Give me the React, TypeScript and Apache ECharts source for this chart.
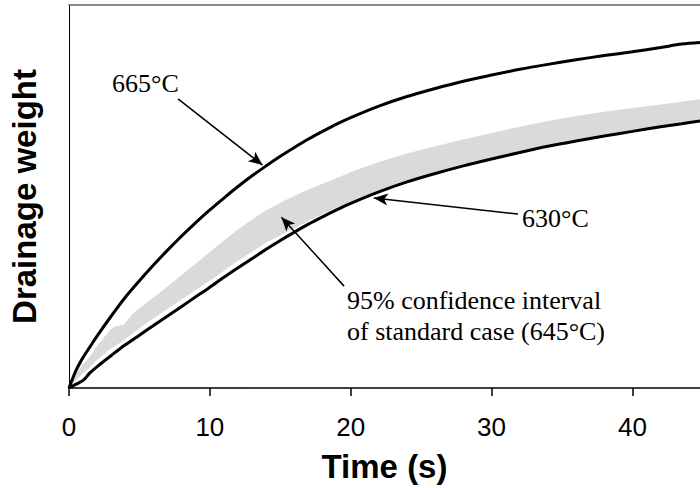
import React, { useEffect, useRef } from "react";
import * as echarts from "echarts";

// Time (s) sample points for the two temperature curves
const LINE_X = [0, 0.5, 1, 1.5, 2, 3, 4, 5, 6, 7, 8, 9, 10, 11, 12, 13, 14, 15, 16, 17, 18, 19, 20, 22, 24, 26, 28, 30, 32, 34, 36, 38, 40, 42, 43.5, 44.8];
// 665°C drainage weight (arbitrary units, 0-100)
const T665 = [0, 4.6, 8.0, 10.8, 13.6, 18.8, 23.7, 28.0, 32.1, 36.0, 39.7, 43.2, 46.5, 49.6, 52.6, 55.4, 58.0, 60.5, 62.8, 65.0, 67.0, 68.9, 70.6, 73.6, 76.1, 78.2, 80.1, 81.7, 83.2, 84.5, 85.7, 86.8, 87.8, 88.9, 89.8, 90.2];
// 630°C drainage weight
const T630 = [0, 1.0, 2.0, 4.0, 5.6, 8.5, 11.3, 13.8, 16.3, 18.8, 21.3, 23.8, 26.3, 28.9, 31.4, 33.8, 36.2, 38.5, 40.7, 42.8, 44.7, 46.5, 48.2, 51.2, 53.8, 56.0, 58.0, 59.8, 61.5, 63.1, 64.5, 65.8, 67.0, 68.2, 69.0, 69.7];

// 95% confidence interval of standard case (645°C)
const BAND_X = [0, 0.5, 1, 1.5, 2, 3, 3.2, 3.9, 4.5, 5, 6, 7, 8, 9, 10, 11, 12, 13, 14, 15, 16, 17, 18, 19, 20, 21, 22, 24, 26, 28, 30, 32, 34, 36, 38, 40, 42, 44.8];
const BAND_UPPER = [0, 3.8, 6.2, 8.2, 11.0, 15.5, 16.0, 16.6, 19.3, 20.8, 23.6, 26.5, 29.5, 32.5, 35.5, 38.5, 41.4, 44.0, 46.4, 48.4, 50.2, 51.8, 53.3, 54.8, 56.3, 57.7, 59.0, 61.2, 63.1, 64.9, 66.6, 68.2, 69.7, 71.0, 72.1, 73.1, 74.0, 75.4];
const BAND_LOWER = [0, 2.0, 3.8, 5.5, 7.4, 10.3, 10.8, 12.5, 14.2, 15.6, 18.2, 20.7, 23.1, 25.6, 28.0, 30.6, 33.2, 35.6, 37.9, 39.9, 41.8, 43.6, 45.4, 47.0, 48.6, 50.0, 51.4, 53.9, 56.1, 58.1, 59.9, 61.6, 63.2, 64.6, 65.9, 67.1, 68.3, 69.8];

const X_TICKS = [0, 10, 20, 30, 40];
const X_MAX = 44.8;
const Y_MAX = 100;

// Annotation arrows in data coordinates: [tailX, tailY, tipX, tipY]
const ARROW_665 = [7.74, 75.5, 13.74, 58.2];
const ARROW_630 = [31.88, 45.4, 21.64, 49.6];
const ARROW_CI = [19.53, 26.6, 15.08, 44.6];

const LABEL_665 = "665°C";
const LABEL_630 = "630°C";
const LABEL_CI_1 = "95% confidence interval";
const LABEL_CI_2 = "of standard case (645°C)";

const pairs = (xs: number[], ys: number[]) => xs.map((x, i) => [x, ys[i]]);

const arrow = (a: number[]) => [
  { coord: [a[0], a[1]], symbol: "none" },
  { coord: [a[2], a[3]], symbol: "arrow" },
];

export default function App() {
  const ref = useRef<HTMLDivElement>(null);
  useEffect(() => {
    if (!ref.current) return;
    const chart = echarts.init(ref.current, null, { renderer: "svg" });
    const serif = "'Liberation Serif', 'Times New Roman', serif";
    const sans = "'Liberation Sans', Arial, sans-serif";
    chart.setOption({
      animation: false,
      backgroundColor: "#ffffff",
      grid: { left: 68, right: -3, top: 5, bottom: 99, containLabel: false },
      xAxis: [
        {
          type: "value",
          min: 0,
          max: X_MAX,
          interval: 10,
          position: "bottom",
          z: 10,
          axisLine: { show: true, lineStyle: { color: "#000", width: 1.5 } },
          axisTick: {
            show: true,
            length: 8,
            inside: false,
            customValues: X_TICKS,
            lineStyle: { color: "#000", width: 1.5 },
          },
          axisLabel: {
            show: true,
            color: "#000",
            fontSize: 26,
            fontFamily: sans,
            margin: 26,
            customValues: X_TICKS,
          },
          splitLine: { show: false },
          name: "Time (s)",
          nameLocation: "middle",
          nameGap: 62,
          nameTextStyle: { color: "#000", fontSize: 33, fontWeight: "bold", fontFamily: sans },
        },
        {
          type: "value",
          min: 0,
          max: X_MAX,
          position: "top",
          z: 10,
          axisLine: { show: true, lineStyle: { color: "#666", width: 1.5 } },
          axisTick: { show: false },
          axisLabel: { show: false },
          splitLine: { show: false },
        },
      ],
      yAxis: {
        type: "value",
        min: 0,
        max: Y_MAX,
        z: 10,
        axisLine: { show: true, lineStyle: { color: "#000", width: 1 } },
        axisTick: { show: false },
        axisLabel: { show: false },
        splitLine: { show: false },
        name: "Drainage weight",
        nameLocation: "middle",
        nameGap: 28,
        nameTextStyle: { color: "#000", fontSize: 33, fontWeight: "bold", fontFamily: sans },
      },
      series: [
        {
          type: "custom",
          name: "CI",
          xAxisIndex: 0,
          data: [[0, 0]],
          encode: { x: 0, y: 1 },
          silent: true,
          z: 1,
          renderItem: (_params: any, api: any) => {
            const top = BAND_X.map((x, i) => api.coord([x, BAND_UPPER[i]]));
            const bottom = BAND_X.map((x, i) => api.coord([x, BAND_LOWER[i]])).reverse();
            return {
              type: "polygon",
              shape: { points: top.concat(bottom) },
              style: { fill: "#dadada", stroke: "none" },
            };
          },
        },
        {
          type: "line",
          name: "665°C",
          xAxisIndex: 0,
          data: pairs(LINE_X, T665),
          symbol: "none",
          smooth: 0.3,
          z: 3,
          lineStyle: { color: "#000", width: 3 },
        },
        {
          type: "line",
          name: "630°C",
          xAxisIndex: 0,
          data: pairs(LINE_X, T630),
          symbol: "none",
          smooth: 0.3,
          z: 3,
          lineStyle: { color: "#000", width: 3 },
          markLine: {
            silent: true,
            symbolSize: [9, 14],
            label: { show: false },
            lineStyle: { color: "#000", width: 1.5, type: "solid" },
            emphasis: { disabled: true },
            data: [arrow(ARROW_665), arrow(ARROW_630), arrow(ARROW_CI)],
          },
        },
      ],
      graphic: [
        { type: "text", left: 112, top: 70, style: { text: LABEL_665, font: `26px ${serif}`, fill: "#000" } },
        { type: "text", left: 522, top: 205, style: { text: LABEL_630, font: `26px ${serif}`, fill: "#000" } },
        { type: "text", left: 347, top: 287, style: { text: LABEL_CI_1, font: `26px ${serif}`, fill: "#000" } },
        { type: "text", left: 347, top: 318, style: { text: LABEL_CI_2, font: `26px ${serif}`, fill: "#000" } },
      ],
    });
    return () => chart.dispose();
  }, []);
  return (
    <div
      ref={ref}
      style={{ position: "fixed", left: 0, top: 0, width: 700, height: 488, background: "#fff" }}
    />
  );
}
